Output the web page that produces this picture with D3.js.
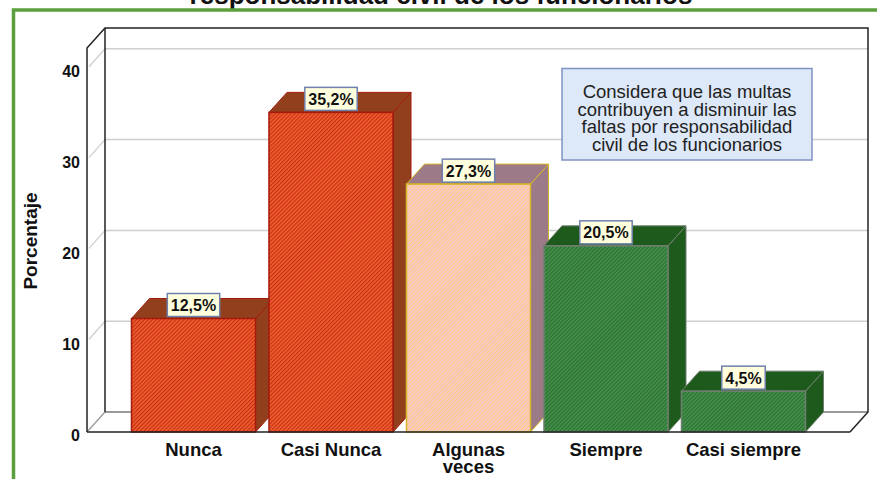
<!DOCTYPE html>
<html><head><meta charset="utf-8">
<script src="https://cdn.jsdelivr.net/npm/d3@7"></script>
<style>body{margin:0;background:#fff}svg{display:block}text{font-family:"Liberation Sans",Arial,sans-serif}</style>
</head><body><svg id="c" width="877" height="479"></svg>
<script>
// ---- data ----
const categories = ["Nunca", "Casi Nunca", "Algunas veces", "Siempre", "Casi siempre"];
const categoryLines = [["Nunca"], ["Casi Nunca"], ["Algunas", "veces"], ["Siempre"], ["Casi siempre"]];
const values = [12.5, 35.2, 27.3, 20.5, 4.5];
const valueLabels = ["12,5%", "35,2%", "27,3%", "20,5%", "4,5%"];
const yTicks = [0, 10, 20, 30, 40];
const yTickLabels = ["0", "10", "20", "30", "40"];
const yMax = 42.3;
const titleText = "responsabilidad civil de los funcionarios";
const yLabel = "Porcentaje";
const legendLines = ["Considera que las multas", "contribuyen a disminuir las", "faltas por responsabilidad", "civil de los funcionarios"];

// ---- styles ----
const palettes = {
  orange: {base: "#F4602C", stripe: "#C2301A", side: "#923F1E", border: "#A31B0C", sw: 1.2},
  pink:   {base: "#FFC6C8", stripe: "#F0D27A", side: "#9C7A88", border: "#D6B52A", sw: 0.9},
  green:  {base: "#43914A", stripe: "#2C6C30", side: "#1D5A1B", border: "#6F7F70", sw: 1.1}
};
const barPalette = d3.scaleOrdinal().domain(categories).range(["orange", "orange", "pink", "green", "green"]);

const svg = d3.select("#c");
const DX = 18, DY = -20;
const x0 = 87, x1 = 850, yBase = 432;

const x = d3.scaleBand().domain(categories).range([x0, x1]).paddingInner(0.098).paddingOuter(0.3236);
const y = d3.scaleLinear().domain([0, 40]).range([yBase, 68.8]);

// patterns
const defs = svg.append("defs");
Object.entries(palettes).forEach(([k, p]) => {
  const pat = defs.append("pattern").attr("id", "hatch-" + k)
    .attr("patternUnits", "userSpaceOnUse").attr("width", 2.8).attr("height", 2.8)
    .attr("patternTransform", "rotate(45)");
  pat.append("rect").attr("width", 2.8).attr("height", 2.8).attr("fill", p.base);
  pat.append("rect").attr("width", p.sw).attr("height", 2.8).attr("fill", p.stripe);
});

// title (cut off at top)
svg.append("text").attr("x", 441).attr("y", 4).attr("text-anchor", "middle")
  .attr("font-size", 26).attr("font-weight", "bold").attr("fill", "#111").text(titleText);

// green frame
svg.append("rect").attr("x", 13.5).attr("y", 10).attr("width", 900).attr("height", 500)
  .attr("fill", "none").attr("stroke", "#5BA03C").attr("stroke-width", 3.5);

// 3D box
const bx0 = x0 + DX, bx1 = x1 + DX;
const yTop = y(yMax);
const grid = svg.append("g");
yTicks.filter(t => t > 0).forEach(t => {
  grid.append("line").attr("x1", bx0).attr("x2", bx1).attr("y1", y(t) + DY).attr("y2", y(t) + DY)
    .attr("stroke", "#cfcfcf").attr("stroke-width", 1.5);
  grid.append("line").attr("x1", x0 + 2).attr("x2", bx0).attr("y1", y(t) - 2).attr("y2", y(t) + DY)
    .attr("stroke", "#cfcfcf").attr("stroke-width", 1.3);
});
svg.append("line").attr("x1", x0).attr("y1", yBase).attr("x2", bx0).attr("y2", yBase + DY).attr("stroke", "#9a9a9a").attr("stroke-width", 1.3);
svg.append("line").attr("x1", bx0).attr("y1", yBase + DY).attr("x2", bx1).attr("y2", yBase + DY).attr("stroke", "#777").attr("stroke-width", 1.3);
svg.append("path").attr("d", `M${x0},${yBase}V${yTop}L${bx0},${yTop + DY}H${bx1}V${yBase + DY}L${x1},${yBase}`)
  .attr("fill", "none").attr("stroke", "#222").attr("stroke-width", 1.5);
svg.append("line").attr("x1", bx0).attr("y1", yTop + DY).attr("x2", bx0).attr("y2", yBase + DY).attr("stroke", "#222").attr("stroke-width", 1.5);

// bars
const bars = svg.append("g");
categories.forEach((c, i) => {
  const p = palettes[barPalette(c)];
  const bxL = x(c), bxR = x(c) + x.bandwidth(), yt = y(values[i]);
  const g = bars.append("g");
  g.append("path").attr("d", `M${bxR},${yBase}L${bxR + DX},${yBase + DY}V${yt + DY}L${bxR},${yt}Z`)
    .attr("fill", p.side).attr("stroke", p.border).attr("stroke-width", 1);
  g.append("path").attr("d", `M${bxL},${yt}L${bxL + DX},${yt + DY}H${bxR + DX}L${bxR},${yt}Z`)
    .attr("fill", p.side).attr("stroke", p.border).attr("stroke-width", 1);
  g.append("rect").attr("x", bxL).attr("y", yt).attr("width", x.bandwidth()).attr("height", yBase - yt)
    .attr("fill", `url(#hatch-${barPalette(c)})`).attr("stroke", p.border).attr("stroke-width", 1.5);
});

svg.append("line").attr("x1", x0).attr("x2", x1).attr("y1", yBase).attr("y2", yBase).attr("stroke", "#222").attr("stroke-width", 1.5);

// value labels
categories.forEach((c, i) => {
  const cx = x(c) + x.bandwidth() / 2, yt = y(values[i]);
  const g = svg.append("g").attr("transform", `translate(${cx},${yt})`);
  const rect = g.append("rect").attr("fill", "#FFFFDD").attr("stroke", "#6F80AC").attr("stroke-width", 1.5);
  const t = g.append("text").attr("text-anchor", "middle").attr("y", -7.5)
    .attr("font-size", 16).attr("font-weight", "bold").attr("fill", "#111").text(valueLabels[i]);
  const w = t.node().getComputedTextLength() + 7;
  rect.attr("x", -w / 2).attr("y", -25).attr("width", w).attr("height", 23);
});

// y axis
const yAxis = svg.append("g").attr("transform", `translate(${x0},0)`)
  .call(d3.axisLeft(y).tickValues(yTicks).tickFormat((d, i) => yTickLabels[i]).tickSize(0).tickPadding(7));
yAxis.select(".domain").remove();
yAxis.selectAll("text").attr("dy", "0.5em").attr("font-size", 16).attr("font-weight", "bold")
  .attr("fill", "#111").attr("font-family", "Liberation Sans, Arial, sans-serif");

// x axis
const xAxis = svg.append("g").attr("transform", `translate(0,${yBase})`)
  .call(d3.axisBottom(x).tickSize(0).tickPadding(10.5));
xAxis.select(".domain").remove();
xAxis.selectAll(".tick text").each(function (d, i) {
  const t = d3.select(this).text(null).attr("font-size", 18.5).attr("font-weight", "bold")
    .attr("fill", "#111").attr("font-family", "Liberation Sans, Arial, sans-serif");
  categoryLines[i].forEach((ln, j) => {
    t.append("tspan").attr("x", 0).attr("dy", j === 0 ? "0.71em" : "17").text(ln);
  });
});

// y label
svg.append("text").attr("transform", "translate(37,241) rotate(-90)").attr("text-anchor", "middle")
  .attr("font-size", 19).attr("font-weight", "bold").attr("fill", "#111").text(yLabel);

// legend box
const lg = svg.append("g");
lg.append("rect").attr("x", 562).attr("y", 68.5).attr("width", 250).attr("height", 91.5)
  .attr("fill", "#DDE8F8").attr("stroke", "#7F92C2").attr("stroke-width", 1.5);
legendLines.forEach((ln, i) => {
  lg.append("text").attr("x", 687).attr("y", 98.3 + i * 17.5).attr("text-anchor", "middle")
    .attr("font-size", 18.5).attr("fill", "#222").text(ln);
});
</script></body></html>
